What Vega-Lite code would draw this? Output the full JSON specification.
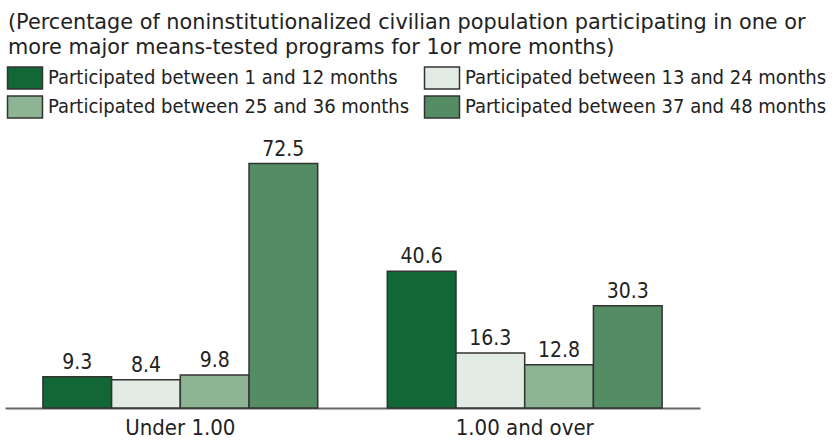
{
  "$schema": "https://vega.github.io/schema/vega-lite/v6.json",
  "width": 695,
  "height": 268,
  "autosize": "none",
  "padding": {"left": 5, "top": 140, "right": 137, "bottom": 32},
  "background": "white",
  "view": {"stroke": null},
  "title": {
    "text": ["(Percentage of noninstitutionalized civilian population participating in one or", "more major means-tested programs for 1or more months)"],
    "anchor": "start",
    "frame": "group",
    "fontSize": 20.8,
    "font": "DejaVu Sans",
    "fontWeight": "normal",
    "color": "#222222",
    "offset": 7,
    "dx": 3,
    "lineHeight": 25
  },
  "data": {
    "values": [
      {"income": "Under 1.00", "period": "Participated between 1 and 12 months", "value": 9.3},
      {"income": "Under 1.00", "period": "Participated between 13 and 24 months", "value": 8.4},
      {"income": "Under 1.00", "period": "Participated between 25 and 36 months", "value": 9.8},
      {"income": "Under 1.00", "period": "Participated between 37 and 48 months", "value": 72.5},
      {"income": "1.00 and over", "period": "Participated between 1 and 12 months", "value": 40.6},
      {"income": "1.00 and over", "period": "Participated between 13 and 24 months", "value": 16.3},
      {"income": "1.00 and over", "period": "Participated between 25 and 36 months", "value": 12.8},
      {"income": "1.00 and over", "period": "Participated between 37 and 48 months", "value": 30.3}
    ]
  },
  "encoding": {
    "x": {
      "field": "income",
      "type": "nominal",
      "sort": ["Under 1.00", "1.00 and over"],
      "scale": {"paddingInner": 0.202, "paddingOuter": 0.11},
      "axis": {
        "title": null,
        "ticks": false,
        "labelAngle": 0,
        "labelFont": "DejaVu Sans Condensed",
        "labelFontSize": 22,
        "labelColor": "#222222",
        "labelPadding": 9,
        "domainColor": "#666666",
        "domainWidth": 2
      }
    },
    "xOffset": {
      "field": "period",
      "type": "nominal",
      "sort": ["Participated between 1 and 12 months", "Participated between 13 and 24 months", "Participated between 25 and 36 months", "Participated between 37 and 48 months"],
      "scale": {"paddingInner": 0, "paddingOuter": 0}
    },
    "y": {
      "field": "value",
      "type": "quantitative",
      "scale": {"domain": [0, 79.5], "nice": false},
      "axis": null
    }
  },
  "layer": [
    {
      "mark": {"type": "bar", "stroke": "#333333", "strokeWidth": 1.5, "opacity": 1},
      "encoding": {
        "color": {
          "field": "period",
          "type": "nominal",
          "sort": ["Participated between 1 and 12 months", "Participated between 13 and 24 months", "Participated between 25 and 36 months", "Participated between 37 and 48 months"],
          "scale": {
            "domain": ["Participated between 1 and 12 months", "Participated between 13 and 24 months", "Participated between 25 and 36 months", "Participated between 37 and 48 months"],
            "range": ["#116735", "#e2ebe4", "#8db593", "#548c64"]
          },
          "legend": {
            "orient": "none",
            "legendX": 8,
            "legendY": -74,
            "columns": 2,
            "direction": "horizontal",
            "title": null,
            "symbolType": "M-1.59,-1H1.59V1H-1.59Z",
            "symbolSize": 484,
            "symbolStrokeColor": "#333333",
            "symbolStrokeWidth": 1.5,
            "symbolOpacity": 1,
            "labelFont": "DejaVu Sans Condensed",
            "labelFontSize": 20,
            "labelColor": "#222222",
            "labelLimit": 500,
            "labelOffset": 11,
            "columnPadding": 11,
            "rowPadding": 1
          }
        }
      }
    },
    {
      "mark": {"type": "text", "dy": -4, "baseline": "bottom", "fontSize": 21, "font": "DejaVu Sans Condensed", "color": "#222222"},
      "encoding": {
        "text": {"field": "value", "type": "quantitative", "format": ".1f"}
      }
    }
  ]
}
